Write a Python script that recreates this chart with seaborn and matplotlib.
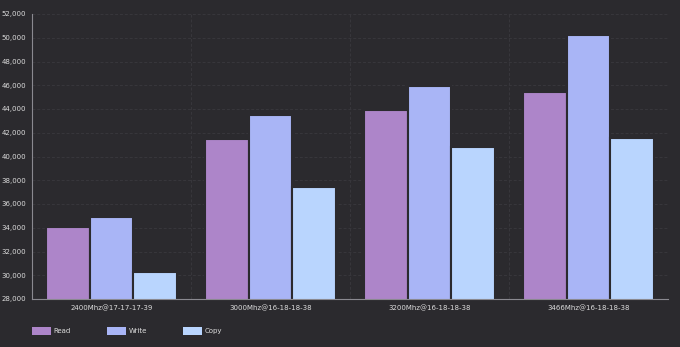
import matplotlib
matplotlib.use("Agg")
import matplotlib.pyplot as plt
from matplotlib.ticker import FuncFormatter, MultipleLocator, FixedLocator
from matplotlib.patches import Patch
import seaborn as sns
import pandas as pd

categories = ["2400Mhz@17-17-17-39", "3000Mhz@16-18-18-38",
              "3200Mhz@16-18-18-38", "3466Mhz@16-18-18-38"]
read_vals = [34050, 41480, 43900, 45460]
write_vals = [34880, 43500, 45960, 50240]
copy_vals = [30250, 37430, 40800, 41590]
series = ["Read", "Write", "Copy"]
colors = ["#ad85c9", "#a9b5f6", "#b9d5fe"]

rows = []
for name, vals in zip(series, [read_vals, write_vals, copy_vals]):
    for c, v in zip(categories, vals):
        rows.append({"cat": c, "series": name, "value": v})
df = pd.DataFrame(rows)

bg = "#2b2a2e"
sns.set_style("dark")
plt.rcParams["font.family"] = ["DejaVu Sans"]

fig = plt.figure(figsize=(6.8, 3.47), dpi=100, facecolor=bg)
ax = fig.add_axes([32/680, 1-299/347, 636/680, 285/347])
ax.set_facecolor(bg)

sns.barplot(data=df, x="cat", y="value", hue="series", palette=colors,
            order=categories, hue_order=series, width=0.82, ax=ax,
            edgecolor=bg, linewidth=1.5, legend=False, saturation=1)

ax.set_ylim(28000, 52000)
ax.set_xlim(-0.5, 3.5)
ax.yaxis.set_major_locator(MultipleLocator(2000))
ax.yaxis.set_major_formatter(FuncFormatter(lambda v, p: f"{int(v):,}"))
ax.xaxis.set_minor_locator(FixedLocator([0.5, 1.5, 2.5, 3.5]))
ax.grid(True, axis="y", which="major", color="#38373c", linestyle=(0, (3, 2)), linewidth=0.7)
ax.grid(True, axis="x", which="minor", color="#38373c", linestyle=(0, (3, 2)), linewidth=0.7)
ax.grid(False, axis="x", which="major")
ax.set_axisbelow(True)

ax.set_xlabel("")
ax.set_ylabel("")
for s in ["top", "right"]:
    ax.spines[s].set_visible(False)
for s in ["left", "bottom"]:
    ax.spines[s].set_visible(True)
    ax.spines[s].set_color("#8a8990")
    ax.spines[s].set_linewidth(0.8)

ax.tick_params(axis="both", which="both", colors="#dcdcdc", labelsize=5, length=0, pad=4)
ax.tick_params(axis="y", length=2, color="#8a8990", pad=2)

handles = [Patch(facecolor=c, edgecolor="none", label=s) for c, s in zip(colors, series)]
fig.legend(handles=handles, loc="center left", bbox_to_anchor=(26/680, 1-331/347),
           ncol=3, frameon=False, fontsize=5, labelcolor="#dcdcdc",
           handlelength=2.7, handleheight=1.5, columnspacing=5.2, handletextpad=0.4)

fig.savefig("out.png", dpi=100, facecolor=bg)
